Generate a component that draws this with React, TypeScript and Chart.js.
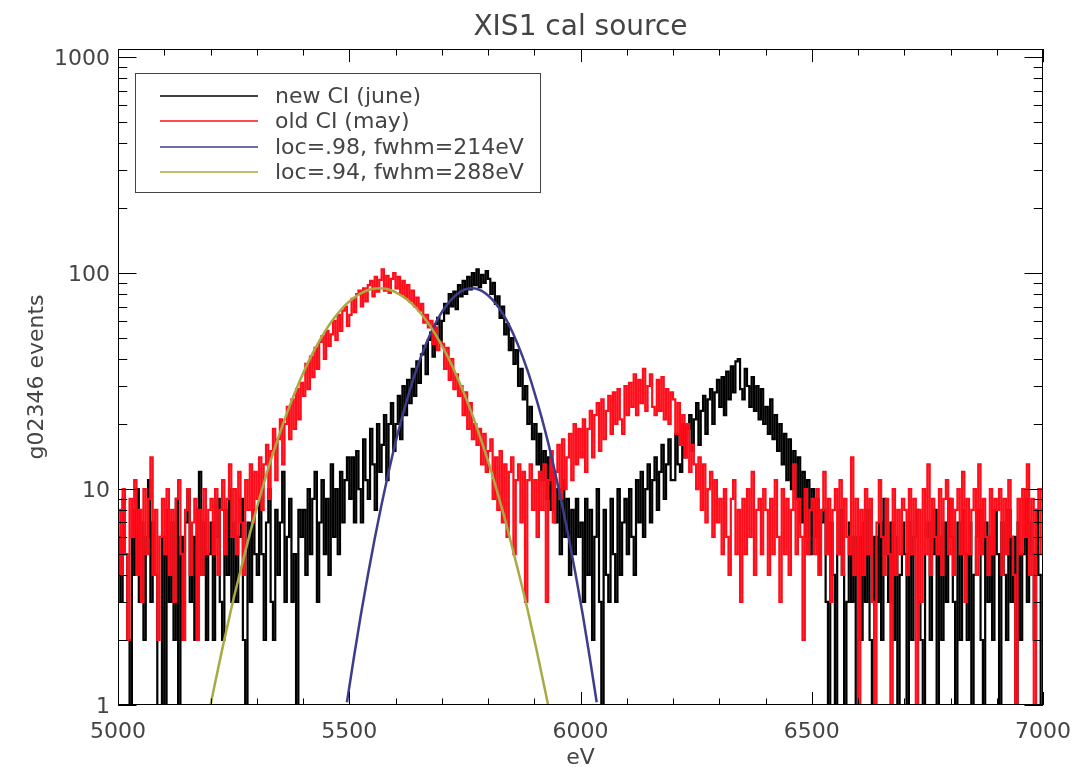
import React, { useEffect, useRef } from 'react';
import { Chart, registerables } from 'chart.js';

Chart.register(...registerables);

// ---- axis settings ----
const X_MIN = 5000;
const X_MAX = 7000;
const BIN = 5; // eV per histogram bin
const Y_MIN = 1;
const Y_MAX = 1090;
const ZERO_PLOT = 0.5; // empty bins are drawn just below the log axis floor
const xMajorTicks = [5000, 5500, 6000, 6500, 7000];
const xMinorStep = 100;
const yDecades = [1, 10, 100, 1000];
const yTickLabels = ['1', '10', '100', '1000'];
const yMinorMultipliers = [2, 3, 4, 5, 6, 7, 8, 9];

const TITLE = 'XIS1 cal source';
const X_TITLE = 'eV';
const Y_TITLE = 'g02346 events';

const seriesLabels = ['new CI (june)', 'old CI (may)', 'loc=.98, fwhm=214eV', 'loc=.94, fwhm=288eV'];
const seriesColors = ['#000000', '#ff0d1a', '#3d3d8c', '#aaaa44'];

// ---- histogram counts (5 eV bins from 5000 eV) ----
const newCI = [
  6,3,9,5,2,0,8,4,10,3,7,2,6,11,3,7,4,0,1,6,
  0,8,3,7,2,9,0,6,2,7,10,3,6,2,8,12,4,7,2,5,
  7,2,6,9,3,2,8,4,10,3,7,3,6,9,2,0,7,3,8,5,
  4,9,5,2,7,10,3,2,8,4,7,12,3,6,9,3,5,0,8,6,
  8,4,10,5,9,12,3,7,11,5,9,4,13,6,10,5,12,7,11,14,
  9,14,7,15,10,7,17,11,9,19,13,8,20,12,16,22,11,20,25,15,
  20,27,17,30,22,32,25,36,27,39,31,42,46,34,49,53,41,58,62,48,
  60,72,65,80,70,82,68,88,78,92,80,96,84,100,88,104,86,98,90,102,
  94,80,90,72,78,62,70,52,58,44,50,38,44,30,36,26,30,20,24,17,
  20,13,18,11,15,9,14,8,12,7,10,5,11,6,9,4,8,5,9,6,
  7,3,9,4,8,2,6,10,3,0,8,4,3,9,5,3,10,4,7,9,
  5,10,6,4,11,7,12,6,10,13,7,11,14,8,12,16,9,13,17,11,
  11,18,13,12,20,14,19,22,15,21,25,16,23,27,18,26,29,20,28,32,
  24,33,22,35,26,37,28,39,40,29,26,36,30,24,33,23,30,21,29,20,
  24,18,26,17,22,15,20,13,18,11,17,10,15,9,14,7,12,6,11,5,
  10,6,9,4,7,8,3,0,7,4,0,5,8,4,0,3,7,3,6,0,
  6,2,7,3,8,2,0,6,3,7,2,9,5,3,7,2,6,0,4,7,
  5,0,7,2,6,8,3,2,0,6,7,2,5,8,0,6,2,7,3,9,
  6,3,0,7,2,8,5,2,7,0,4,6,8,2,0,7,3,6,2,8,
  5,0,7,4,2,8,3,6,0,7,2,5,9,3,7,5,2,8,4,0,
];

const oldCI = [
  8,4,10,5,2,9,6,11,4,8,3,10,5,9,14,4,8,2,6,9,
  5,10,4,8,3,9,11,5,2,8,10,4,7,9,2,8,4,10,5,8,
  9,5,10,4,8,11,5,9,13,6,10,5,12,7,4,11,8,13,7,12,
  9,14,8,13,16,9,15,19,11,17,21,13,20,24,17,26,19,29,21,31,
  27,38,29,41,33,45,36,48,51,40,54,46,52,60,49,64,54,67,70,57,
  64,76,66,80,83,70,85,74,88,92,78,96,82,93,104,83,97,81,94,100,
  85,96,80,92,77,88,74,83,70,77,67,72,59,64,56,60,47,56,44,48,
  47,36,45,32,40,29,34,27,30,22,28,19,25,17,20,16,19,13,18,12,
  15,17,9,14,8,15,7,13,6,12,14,5,11,13,7,12,3,11,13,8,
  11,6,12,8,13,3,11,15,7,12,16,9,17,10,14,18,11,20,13,19,
  14,21,12,19,23,14,22,25,15,26,17,23,27,18,28,20,29,21,18,30,
  22,31,24,34,22,32,25,36,23,30,34,24,22,32,23,33,21,29,20,28,
  26,18,25,16,22,14,20,12,16,13,10,14,8,13,7,10,12,6,11,7,
  9,5,10,6,4,9,11,5,8,3,9,5,10,6,12,4,8,9,5,10,
  8,4,9,5,11,6,3,10,5,9,4,8,13,5,9,6,2,10,5,8,
  9,5,10,4,8,12,5,9,3,8,10,5,11,4,9,6,5,14,4,9,
  0,8,4,10,5,9,3,0,7,11,6,4,9,5,0,10,4,8,5,9,
  8,4,10,5,9,0,8,3,10,5,13,4,9,6,5,10,4,9,11,5,
  9,4,8,10,5,12,3,9,5,8,10,4,13,5,9,6,4,10,5,9,
  8,10,4,9,5,11,6,4,0,9,5,10,6,13,4,9,0,8,10,5,
];

// ---- fitted line profiles ----
const fitNewX = [
  5495,5510,5525,5540,5555,5570,5585,5600,5615,5630,5645,5660,5675,5690,5705,5720,5735,5750,5765,
  5780,5795,5810,5825,5840,5855,5870,5885,5900,5915,5930,5945,5960,5975,5990,6005,6020,6035,
];
const fitNewY = [
  1.03,1.66,2.61,3.97,5.89,8.51,11.96,16.4,21.8,28.2,35.6,43.6,52.1,60.5,68.4,75.2,80.5,83.9,85,
  83.9,80.5,75.2,68.4,60.5,52.1,43.6,35.6,28.2,21.8,16.4,11.96,8.51,5.89,3.97,2.61,1.66,1.03,
];
const fitOldX = [
  5200,5225,5245,5265,5285,5305,5325,5345,5365,5385,5405,5425,5445,5465,5485,5505,5525,5545,5565,
  5585,5605,5625,5645,5665,5685,5705,5725,5745,5765,5785,5805,5825,5845,5865,5885,5905,5930,
];
const fitOldY = [
  1.0,1.8,2.8,4.2,6.2,8.9,12.5,16.9,22.4,28.8,36.2,44.2,52.6,60.9,68.7,75.4,80.6,83.9,85,
  83.9,80.6,75.4,68.7,60.9,52.6,44.2,36.2,28.8,22.4,16.9,12.5,8.9,6.2,4.2,2.8,1.8,1.0,
];

const FONT = '"DejaVu Sans", "Liberation Sans", sans-serif';
const TEXT_COLOR = '#444444';

const idlPlugin = {
  id: 'idlAxes',
  afterDatasetsDraw(chart: any) {
    const { ctx, chartArea: a, scales } = chart;
    const xs = scales.x;
    const ys = scales.y;
    const w = a.right - a.left;
    const h = a.bottom - a.top;
    ctx.save();

    // frame
    ctx.strokeStyle = '#000';
    ctx.lineWidth = 1;
    ctx.strokeRect(a.left + 0.5, a.top + 0.5, w - 1, h - 1);

    // x ticks (inward, mirrored)
    const xMaj = h * 0.02;
    const xMin = xMaj / 2;
    ctx.beginPath();
    for (let v = X_MIN; v <= X_MAX; v += xMinorStep) {
      const px = Math.round(xs.getPixelForValue(v)) + 0.5;
      const len = xMajorTicks.includes(v) ? xMaj : xMin;
      ctx.moveTo(px, a.bottom);
      ctx.lineTo(px, a.bottom - len);
      ctx.moveTo(px, a.top);
      ctx.lineTo(px, a.top + len);
    }
    // y ticks
    const yMaj = w * 0.02;
    const yMin = yMaj / 2;
    yDecades.forEach((d) => {
      const py = Math.round(ys.getPixelForValue(d)) + 0.5;
      ctx.moveTo(a.left, py);
      ctx.lineTo(a.left + yMaj, py);
      ctx.moveTo(a.right, py);
      ctx.lineTo(a.right - yMaj, py);
      yMinorMultipliers.forEach((m) => {
        const v = d * m;
        if (v > Y_MAX) return;
        const q = Math.round(ys.getPixelForValue(v)) + 0.5;
        ctx.moveTo(a.left, q);
        ctx.lineTo(a.left + yMin, q);
        ctx.moveTo(a.right, q);
        ctx.lineTo(a.right - yMin, q);
      });
    });
    ctx.stroke();

    // tick labels
    ctx.fillStyle = TEXT_COLOR;
    ctx.font = `22px ${FONT}`;
    ctx.textBaseline = 'alphabetic';
    ctx.textAlign = 'center';
    xMajorTicks.forEach((v) => {
      ctx.fillText(String(v), xs.getPixelForValue(v), a.bottom + 33);
    });
    ctx.textAlign = 'right';
    yDecades.forEach((d, i) => {
      ctx.fillText(yTickLabels[i], a.left - 8, ys.getPixelForValue(d) + 8);
    });

    // titles
    ctx.textAlign = 'center';
    ctx.font = `28px ${FONT}`;
    ctx.fillText(TITLE, (a.left + a.right) / 2, 35);
    ctx.font = `22px ${FONT}`;
    ctx.fillText(X_TITLE, (a.left + a.right) / 2, a.bottom + 59);
    ctx.save();
    ctx.translate(43, (a.top + a.bottom) / 2);
    ctx.rotate(-Math.PI / 2);
    ctx.fillText(Y_TITLE, 0, 0);
    ctx.restore();

    // legend box
    const bx = a.left + 17;
    const by = a.top + 24;
    const bw = 405;
    const bh = 119;
    ctx.fillStyle = '#fff';
    ctx.fillRect(bx, by, bw, bh);
    ctx.strokeStyle = '#444';
    ctx.lineWidth = 1;
    ctx.strokeRect(bx + 0.5, by + 0.5, bw, bh);
    ctx.font = `22px ${FONT}`;
    ctx.textAlign = 'left';
    ctx.textBaseline = 'middle';
    seriesLabels.forEach((lab, i) => {
      const ry = Math.round(by + 23 + i * 25.3);
      ctx.strokeStyle = seriesColors[i];
      ctx.lineWidth = 1.5;
      ctx.beginPath();
      ctx.moveTo(bx + 25, ry);
      ctx.lineTo(bx + 123, ry);
      ctx.stroke();
      ctx.fillStyle = TEXT_COLOR;
      ctx.fillText(lab, bx + 140, ry + 1);
    });
    ctx.restore();
  },
};

export default function App() {
  const ref = useRef<HTMLCanvasElement>(null);
  useEffect(() => {
    document.body.style.margin = '0';
    const canvas = ref.current;
    if (!canvas) return;
    const hist = (arr: number[]) =>
      arr.map((v, i) => ({ x: X_MIN + (i + 0.5) * BIN, y: v > 0 ? v : ZERO_PLOT }));
    const curve = (xs: number[], ys: number[]) => xs.map((x, i) => ({ x, y: ys[i] }));
    const chart = new Chart(canvas, {
      type: 'line',
      data: {
        datasets: [
          { label: seriesLabels[0], data: hist(newCI), borderColor: seriesColors[0], borderWidth: 2.2, pointRadius: 0, stepped: 'middle', order: 4, clip: 0 } as any,
          { label: seriesLabels[1], data: hist(oldCI), borderColor: seriesColors[1], borderWidth: 2.2, pointRadius: 0, stepped: 'middle', order: 3, clip: 0 } as any,
          { label: seriesLabels[2], data: curve(fitNewX, fitNewY), borderColor: seriesColors[2], borderWidth: 2.5, pointRadius: 0, cubicInterpolationMode: 'monotone', order: 2, clip: 0 } as any,
          { label: seriesLabels[3], data: curve(fitOldX, fitOldY), borderColor: seriesColors[3], borderWidth: 2.5, pointRadius: 0, cubicInterpolationMode: 'monotone', order: 1, clip: 0 } as any,
        ],
      },
      options: {
        responsive: false,
        animation: false,
        devicePixelRatio: 1,
        layout: { padding: { left: 118, right: 32, top: 49, bottom: 62 } },
        plugins: { legend: { display: false }, tooltip: { enabled: false }, title: { display: false } },
        scales: {
          x: { type: 'linear', min: X_MIN, max: X_MAX, display: false },
          y: { type: 'logarithmic', min: Y_MIN, max: Y_MAX, display: false },
        },
      },
      plugins: [idlPlugin],
    });
    return () => chart.destroy();
  }, []);
  return <canvas ref={ref} width={1075} height={767} style={{ display: 'block' }} />;
}
